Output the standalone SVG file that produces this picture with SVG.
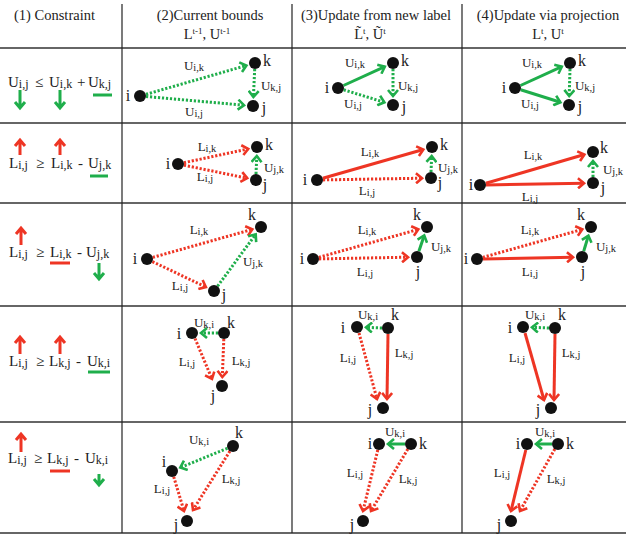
<svg xmlns="http://www.w3.org/2000/svg" width="626" height="540" viewBox="0 0 626 540">
<style>
text{font-family:"Liberation Serif","DejaVu Serif",serif;fill:#222}
.h{font-size:14.5px}
.c{font-size:15px}
.s{font-size:12px}
.sup{font-size:9px}
.el{font-size:13px;text-anchor:middle}
.el .s{font-size:10.5px}
.nl{font-size:16px;text-anchor:middle}
.n{fill:#111}
.rs{stroke:#ee3524;stroke-width:3;fill:none;marker-end:url(#ar)}
.rd{stroke:#ee3524;stroke-width:3;fill:none;stroke-dasharray:2.2 1.8;marker-end:url(#ar)}
.gs{stroke:#1fae4b;stroke-width:3;fill:none;marker-end:url(#ag)}
.gd{stroke:#1fae4b;stroke-width:3;fill:none;stroke-dasharray:2.2 1.8;marker-end:url(#ag)}
.ur{stroke:#ee3524;stroke-width:3;fill:none}
.ug{stroke:#1fae4b;stroke-width:3;fill:none}
.hl{stroke:#666;stroke-width:2}
.vl{stroke:#222;stroke-width:1.2}
</style>
<defs>
<marker id="ar" markerUnits="userSpaceOnUse" markerWidth="12" markerHeight="12" viewBox="-7 -6 9 12" refX="0" refY="0" orient="auto"><path d="M-6,-5 L0,0 L-6,5" stroke="#ee3524" stroke-width="2.6" fill="none"/></marker>
<marker id="ag" markerUnits="userSpaceOnUse" markerWidth="12" markerHeight="12" viewBox="-7 -6 9 12" refX="0" refY="0" orient="auto"><path d="M-6,-5 L0,0 L-6,5" stroke="#1fae4b" stroke-width="2.6" fill="none"/></marker>
</defs>
<rect width="626" height="540" fill="#fff"/>
<g id="grid">
<line class="hl" x1="0" y1="48" x2="626" y2="48"/>
<line class="hl" x1="0" y1="123" x2="626" y2="123" stroke-width="1.5"/>
<line class="hl" x1="0" y1="203" x2="626" y2="203" stroke-width="1.5"/>
<line class="hl" x1="0" y1="306" x2="626" y2="306" stroke-width="1.5"/>
<line class="hl" x1="0" y1="422" x2="626" y2="422" stroke-width="1.5"/>
<line class="hl" x1="0" y1="533" x2="626" y2="533"/>
<line class="vl" x1="122" y1="4" x2="122" y2="533"/>
<line class="vl" x1="292" y1="4" x2="292" y2="533"/>
<line class="vl" x1="462" y1="4" x2="462" y2="533"/>
</g>
<g id="header">
<text class="h" x="14" y="20">(1) Constraint</text>
<text class="h" x="210" y="20" text-anchor="middle">(2)Current bounds</text>
<text class="h" x="207" y="39" text-anchor="middle">L<tspan class="sup" dy="-5">t-1</tspan><tspan dy="5">, U</tspan><tspan class="sup" dy="-5">t-1</tspan></text>
<text class="h" x="376" y="20" text-anchor="middle">(3)Update from new label</text>
<text class="h" x="370" y="39" text-anchor="middle">L̃<tspan class="sup" dy="-5">t</tspan><tspan dy="5">, Ũ</tspan><tspan class="sup" dy="-5">t</tspan></text>
<text class="h" x="548" y="20" text-anchor="middle">(4)Update via projection</text>
<text class="h" x="548" y="39" text-anchor="middle">L<tspan class="sup" dy="-5">t</tspan><tspan dy="5">, U</tspan><tspan class="sup" dy="-5">t</tspan></text>
</g>
<g id="constraints">
<text class="c" x="8" y="87">U<tspan class="s" dy="1">i,j</tspan></text>
<text class="c" x="35" y="87">≤</text>
<text class="c" x="49" y="87">U<tspan class="s" dy="1">i,k</tspan></text>
<text class="c" x="77" y="87">+</text>
<text class="c" x="88" y="87">U<tspan class="s" dy="1">k,j</tspan></text>
<path class="ug" d="M20,90 V108 M15,102 L20,108 L25,102"/>
<path class="ug" d="M60,90 V108 M55,102 L60,108 L65,102"/>
<line class="ug" x1="93" y1="95" x2="112" y2="95"/>

<text class="c" x="9" y="168">L<tspan class="s" dy="1">i,j</tspan></text>
<text class="c" x="36" y="168">≥</text>
<text class="c" x="51" y="168">L<tspan class="s" dy="1">i,k</tspan></text>
<text class="c" x="78" y="168">-</text>
<text class="c" x="88" y="168">U<tspan class="s" dy="1">j,k</tspan></text>
<path class="ur" d="M20,155 V140 M15,146 L20,140 L25,146"/>
<path class="ur" d="M60,155 V140 M55,146 L60,140 L65,146"/>
<line class="ug" x1="90" y1="176" x2="108" y2="176"/>

<text class="c" x="9" y="257">L<tspan class="s" dy="1">i,j</tspan></text>
<text class="c" x="36" y="257">≥</text>
<text class="c" x="50" y="257">L<tspan class="s" dy="1">i,k</tspan></text>
<text class="c" x="77" y="257">-</text>
<text class="c" x="86" y="257">U<tspan class="s" dy="1">j,k</tspan></text>
<path class="ur" d="M21,245 V228 M16,234 L21,228 L26,234"/>
<line class="ur" x1="50" y1="263" x2="70" y2="263"/>
<path class="ug" d="M99,263 V279 M94,273 L99,279 L104,273"/>

<text class="c" x="9" y="366">L<tspan class="s" dy="1">i,j</tspan></text>
<text class="c" x="36" y="366">≥</text>
<text class="c" x="49" y="366">L<tspan class="s" dy="1">k,j</tspan></text>
<text class="c" x="76" y="366">-</text>
<text class="c" x="87" y="366">U<tspan class="s" dy="1">k,i</tspan></text>
<path class="ur" d="M20,354 V337 M15,343 L20,337 L25,343"/>
<path class="ur" d="M60,354 V337 M55,343 L60,337 L65,343"/>
<line class="ug" x1="88" y1="372" x2="110" y2="372"/>

<text class="c" x="8" y="463">L<tspan class="s" dy="1">i,j</tspan></text>
<text class="c" x="34" y="463">≥</text>
<text class="c" x="47" y="463">L<tspan class="s" dy="1">k,j</tspan></text>
<text class="c" x="74" y="463">-</text>
<text class="c" x="85" y="463">U<tspan class="s" dy="1">k,i</tspan></text>
<path class="ur" d="M21,452 V434 M16,440 L21,434 L26,440"/>
<line class="ur" x1="50" y1="471" x2="70" y2="471"/>
<path class="ug" d="M99,474 V485 M94,479 L99,485 L104,479"/>
</g>
<g id="connectors">
<line class="gd" x1="146" y1="94.3" x2="246.4" y2="65.5"/>
<line class="gd" x1="254.7" y1="69" x2="253.4" y2="97"/>
<line class="gd" x1="146" y1="96.5" x2="244" y2="105.2"/>
<line class="gs" x1="343.5" y1="85.5" x2="384.8" y2="66.7"/>
<line class="gd" x1="393" y1="69" x2="393" y2="96"/>
<line class="gd" x1="343.7" y1="89.8" x2="384.4" y2="102.3"/>
<line class="gs" x1="520.5" y1="85.5" x2="561.8" y2="66.7"/>
<line class="gd" x1="570" y1="69" x2="569.2" y2="96"/>
<line class="gs" x1="520.7" y1="89.8" x2="560.4" y2="102.3"/>
<line class="rd" x1="183.9" y1="162.7" x2="248.2" y2="148.9"/>
<line class="rd" x1="183.9" y1="165.2" x2="247.2" y2="178.2"/>
<line class="gd" x1="256" y1="174" x2="256.8" y2="156"/>
<line class="rs" x1="322.8" y1="178.3" x2="423.3" y2="149.5"/>
<line class="rd" x1="323" y1="179.9" x2="422" y2="178.2"/>
<line class="gd" x1="431" y1="172" x2="431.7" y2="156"/>
<line class="rs" x1="485.8" y1="183.3" x2="584.4" y2="154.5"/>
<line class="rs" x1="486" y1="184.9" x2="584" y2="183.2"/>
<line class="gd" x1="593" y1="177" x2="593" y2="161"/>
<line class="rd" x1="152.8" y1="257.4" x2="252.3" y2="229.4"/>
<line class="rd" x1="152.4" y1="261.6" x2="205.9" y2="287.1"/>
<line class="gd" x1="217.6" y1="286.2" x2="255.7" y2="234.3"/>
<line class="rd" x1="318.8" y1="257.4" x2="418.3" y2="229.4"/>
<line class="rd" x1="319" y1="258.9" x2="408" y2="257.2"/>
<line class="gs" x1="418.9" y1="251.3" x2="424.2" y2="235.5"/>
<line class="rd" x1="482.8" y1="257.4" x2="582.3" y2="229.4"/>
<line class="rs" x1="483" y1="258.9" x2="573" y2="257.2"/>
<line class="gs" x1="583.7" y1="251.3" x2="588.4" y2="235.6"/>
<line class="gd" x1="218" y1="333" x2="201" y2="333"/>
<line class="rd" x1="195" y1="338.5" x2="212" y2="379"/>
<line class="rd" x1="223.8" y1="339" x2="222.3" y2="377"/>
<line class="gd" x1="382" y1="328" x2="366" y2="327.3"/>
<line class="rd" x1="359" y1="333" x2="377" y2="399"/>
<line class="rs" x1="388" y1="334" x2="387" y2="399"/>
<line class="gd" x1="549" y1="328" x2="532" y2="327.3"/>
<line class="rs" x1="525" y1="333" x2="544" y2="400"/>
<line class="rs" x1="555" y1="334" x2="554" y2="400"/>
<line class="gd" x1="227.4" y1="448.3" x2="180.3" y2="467.6"/>
<line class="rd" x1="173.7" y1="476.7" x2="184" y2="511"/>
<line class="rd" x1="229.9" y1="451.1" x2="193" y2="510"/>
<line class="gs" x1="405" y1="444" x2="388" y2="444"/>
<line class="rd" x1="377.8" y1="449.9" x2="363" y2="511"/>
<line class="rd" x1="407.8" y1="449.1" x2="371" y2="511"/>
<line class="gs" x1="552" y1="444" x2="536" y2="444"/>
<line class="rs" x1="525.8" y1="450" x2="511" y2="511"/>
<line class="rd" x1="554.8" y1="449" x2="520" y2="511"/>
</g>
<g id="edge-labels">
<text class="el" x="194" y="70">U<tspan class="s" dy="1">i,k</tspan></text>
<text class="el" x="271" y="90">U<tspan class="s" dy="1">k,j</tspan></text>
<text class="el" x="194" y="116">U<tspan class="s" dy="1">i,j</tspan></text>
<text class="el" x="355" y="67">U<tspan class="s" dy="1">i,k</tspan></text>
<text class="el" x="408" y="90">U<tspan class="s" dy="1">k,j</tspan></text>
<text class="el" x="353" y="108">U<tspan class="s" dy="1">i,j</tspan></text>
<text class="el" x="532" y="67">U<tspan class="s" dy="1">i,k</tspan></text>
<text class="el" x="585" y="90">U<tspan class="s" dy="1">k,j</tspan></text>
<text class="el" x="530" y="108">U<tspan class="s" dy="1">i,j</tspan></text>
<text class="el" x="207" y="151">L<tspan class="s" dy="1">i,k</tspan></text>
<text class="el" x="274" y="172">U<tspan class="s" dy="1">j,k</tspan></text>
<text class="el" x="205" y="181">L<tspan class="s" dy="1">i,j</tspan></text>
<text class="el" x="370" y="156">L<tspan class="s" dy="1">i,k</tspan></text>
<text class="el" x="448" y="172">U<tspan class="s" dy="1">j,k</tspan></text>
<text class="el" x="367" y="195">L<tspan class="s" dy="1">i,j</tspan></text>
<text class="el" x="533" y="159">L<tspan class="s" dy="1">i,k</tspan></text>
<text class="el" x="613" y="174">U<tspan class="s" dy="1">j,k</tspan></text>
<text class="el" x="530" y="201">L<tspan class="s" dy="1">i,j</tspan></text>
<text class="el" x="199" y="234">L<tspan class="s" dy="1">i,k</tspan></text>
<text class="el" x="253" y="266">U<tspan class="s" dy="1">j,k</tspan></text>
<text class="el" x="180" y="290">L<tspan class="s" dy="1">i,j</tspan></text>
<text class="el" x="367" y="234">L<tspan class="s" dy="1">i,k</tspan></text>
<text class="el" x="441" y="251">U<tspan class="s" dy="1">j,k</tspan></text>
<text class="el" x="365" y="276">L<tspan class="s" dy="1">i,j</tspan></text>
<text class="el" x="530" y="234">L<tspan class="s" dy="1">i,k</tspan></text>
<text class="el" x="606" y="251">U<tspan class="s" dy="1">j,k</tspan></text>
<text class="el" x="530" y="276">L<tspan class="s" dy="1">i,j</tspan></text>
<text class="el" x="204" y="327">U<tspan class="s" dy="1">k,i</tspan></text>
<text class="el" x="187" y="366">L<tspan class="s" dy="1">i,j</tspan></text>
<text class="el" x="241" y="365">L<tspan class="s" dy="1">k,j</tspan></text>
<text class="el" x="368" y="319">U<tspan class="s" dy="1">k,i</tspan></text>
<text class="el" x="348" y="362">L<tspan class="s" dy="1">i,j</tspan></text>
<text class="el" x="404" y="357">L<tspan class="s" dy="1">k,j</tspan></text>
<text class="el" x="535" y="319">U<tspan class="s" dy="1">k,i</tspan></text>
<text class="el" x="517" y="362">L<tspan class="s" dy="1">i,j</tspan></text>
<text class="el" x="571" y="357">L<tspan class="s" dy="1">k,j</tspan></text>
<text class="el" x="199" y="444">U<tspan class="s" dy="1">k,i</tspan></text>
<text class="el" x="162" y="493">L<tspan class="s" dy="1">i,j</tspan></text>
<text class="el" x="231" y="483">L<tspan class="s" dy="1">k,j</tspan></text>
<text class="el" x="395" y="436">U<tspan class="s" dy="1">k,i</tspan></text>
<text class="el" x="355" y="477">L<tspan class="s" dy="1">i,j</tspan></text>
<text class="el" x="408" y="483">L<tspan class="s" dy="1">k,j</tspan></text>
<text class="el" x="545" y="436">U<tspan class="s" dy="1">k,i</tspan></text>
<text class="el" x="502" y="477">L<tspan class="s" dy="1">i,j</tspan></text>
<text class="el" x="556" y="483">L<tspan class="s" dy="1">k,j</tspan></text>
</g>
<g id="nodes">
<g id="r1c2"><circle class="n" cx="140" cy="96" r="6"/><circle class="n" cx="255" cy="63" r="6"/><circle class="n" cx="253" cy="106" r="6"/><text class="nl" x="128" y="101">i</text><text class="nl" x="267" y="66">k</text><text class="nl" x="264" y="113">j</text></g>
<g id="r1c3"><circle class="n" cx="338" cy="88" r="6"/><circle class="n" cx="393" cy="63" r="6"/><circle class="n" cx="393" cy="105" r="6"/><text class="nl" x="327" y="93">i</text><text class="nl" x="405" y="66">k</text><text class="nl" x="404" y="112">j</text></g>
<g id="r1c4"><circle class="n" cx="515" cy="88" r="6"/><circle class="n" cx="570" cy="63" r="6"/><circle class="n" cx="569" cy="105" r="6"/><text class="nl" x="504" y="93">i</text><text class="nl" x="582" y="66">k</text><text class="nl" x="580" y="112">j</text></g>
<g id="r2c2"><circle class="n" cx="178" cy="164" r="6"/><circle class="n" cx="257" cy="147" r="6"/><circle class="n" cx="256" cy="180" r="6"/><text class="nl" x="168" y="169">i</text><text class="nl" x="269" y="150">k</text><text class="nl" x="265" y="190">j</text></g>
<g id="r2c3"><circle class="n" cx="317" cy="180" r="6"/><circle class="n" cx="432" cy="147" r="6"/><circle class="n" cx="431" cy="178" r="6"/><text class="nl" x="305" y="185">i</text><text class="nl" x="444" y="150">k</text><text class="nl" x="440" y="188">j</text></g>
<g id="r2c4"><circle class="n" cx="480" cy="185" r="6"/><circle class="n" cx="593" cy="152" r="6"/><circle class="n" cx="593" cy="183" r="6"/><text class="nl" x="471" y="190">i</text><text class="nl" x="604" y="153">k</text><text class="nl" x="603" y="193">j</text></g>
<g id="r3c2"><circle class="n" cx="147" cy="259" r="6"/><circle class="n" cx="261" cy="227" r="6"/><circle class="n" cx="214" cy="291" r="6"/><text class="nl" x="135" y="264">i</text><text class="nl" x="252" y="220">k</text><text class="nl" x="224" y="300">j</text></g>
<g id="r3c3"><circle class="n" cx="313" cy="259" r="6"/><circle class="n" cx="427" cy="227" r="6"/><circle class="n" cx="417" cy="257" r="6"/><text class="nl" x="302" y="264">i</text><text class="nl" x="417" y="220">k</text><text class="nl" x="418" y="277">j</text></g>
<g id="r3c4"><circle class="n" cx="477" cy="259" r="6"/><circle class="n" cx="591" cy="227" r="6"/><circle class="n" cx="582" cy="257" r="6"/><text class="nl" x="466" y="264">i</text><text class="nl" x="581" y="220">k</text><text class="nl" x="583" y="277">j</text></g>
<g id="r4c2"><circle class="n" cx="192" cy="333" r="6"/><circle class="n" cx="224" cy="333" r="6"/><circle class="n" cx="222" cy="386" r="6"/><text class="nl" x="179" y="339">i</text><text class="nl" x="231" y="328">k</text><text class="nl" x="213" y="401">j</text></g>
<g id="r4c3"><circle class="n" cx="357" cy="327" r="6"/><circle class="n" cx="388" cy="328" r="6"/><circle class="n" cx="383" cy="408" r="6"/><text class="nl" x="343" y="333">i</text><text class="nl" x="395" y="320">k</text><text class="nl" x="370" y="415">j</text></g>
<g id="r4c4"><circle class="n" cx="523" cy="327" r="6"/><circle class="n" cx="555" cy="328" r="6"/><circle class="n" cx="551" cy="408" r="6"/><text class="nl" x="510" y="333">i</text><text class="nl" x="562" y="320">k</text><text class="nl" x="538" y="415">j</text></g>
<g id="r5c2"><circle class="n" cx="172" cy="471" r="6"/><circle class="n" cx="233" cy="446" r="6"/><circle class="n" cx="187" cy="521" r="6"/><text class="nl" x="164" y="467">i</text><text class="nl" x="239" y="438">k</text><text class="nl" x="176" y="530">j</text></g>
<g id="r5c3"><circle class="n" cx="379" cy="444" r="6"/><circle class="n" cx="411" cy="444" r="6"/><circle class="n" cx="363" cy="521" r="6"/><text class="nl" x="370" y="449">i</text><text class="nl" x="423" y="449">k</text><text class="nl" x="352" y="530">j</text></g>
<g id="r5c4"><circle class="n" cx="527" cy="444" r="6"/><circle class="n" cx="558" cy="444" r="6"/><circle class="n" cx="511" cy="521" r="6"/><text class="nl" x="518" y="449">i</text><text class="nl" x="570" y="449">k</text><text class="nl" x="499" y="530">j</text></g>
</g>
</svg>
